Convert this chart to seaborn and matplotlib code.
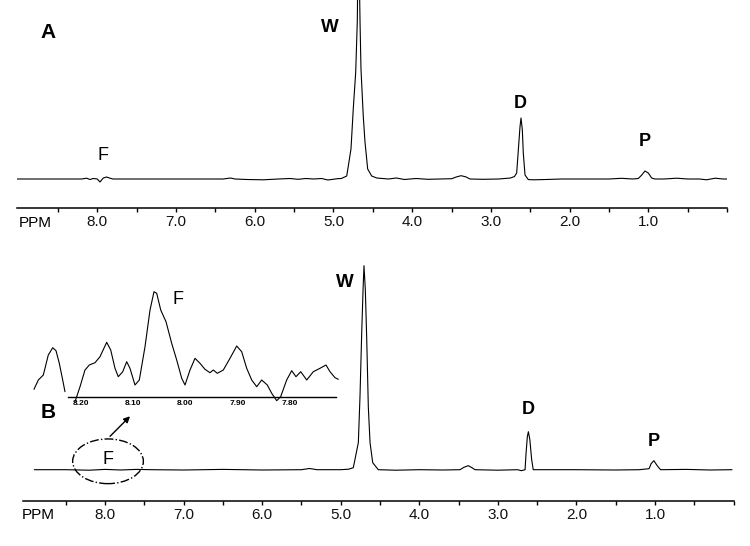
import matplotlib
matplotlib.use("Agg")
import matplotlib.pyplot as plt
import seaborn as sns
from matplotlib.patches import Ellipse

# ---------------- data (ppm, intensity in arbitrary units above baseline) ----------------
a_ppm = [9.02, 8.60, 8.20, 8.135, 8.093, 8.051, 8.00, 7.966, 7.924, 7.881, 7.839, 7.80,
         7.00, 6.40, 6.31, 6.25, 6.10, 5.89, 5.70, 5.55, 5.45, 5.35, 5.25, 5.15, 5.07, 4.95,
         4.90, 4.831, 4.777, 4.748, 4.717, 4.697, 4.682, 4.662, 4.650, 4.621, 4.599, 4.565,
         4.514, 4.45, 4.30, 4.20, 4.10, 3.95, 3.80, 3.65, 3.497, 3.44, 3.379, 3.32, 3.265,
         3.10, 2.90, 2.75, 2.700, 2.672, 2.651, 2.630, 2.617, 2.600, 2.588, 2.566, 2.524,
         2.45, 2.30, 2.10, 1.80, 1.50, 1.34, 1.20, 1.127, 1.083, 1.042, 1.000, 0.957, 0.915,
         0.80, 0.64, 0.50, 0.35, 0.26, 0.15, 0.05, 0.00]
a_int = [0, 0, 0, 0.8, -0.5, 0.5, 0, -3.0, 1.0, 2.0, 0.8, 0,
         0, 0, 1.0, 0, -0.5, -0.8, 0, 0.5, -0.3, 0.5, 0, 0.5, -1.0, 0.3,
         0.5, 3, 30, 70, 107, 157, 260, 157, 110, 63, 37, 10,
         3, 1, 0, 1.0, -0.5, 0.5, -0.3, 0, 0.3, 2.0, 3.3, 2.2, 0,
         -0.3, 0, 1.0, 2.5, 6, 29, 52, 61, 49, 26, 4, -0.6,
         -0.8, -0.5, 0, 0, 0, 0.7, 0, 0.5, 4, 8, 6, 1, 0,
         0, 0.8, 0, 0, -0.8, 0.8, 0, 0]

b_ppm = [8.90, 8.50, 8.20, 8.00, 7.80, 7.60, 7.40, 7.00, 6.50, 6.00, 5.50, 5.40, 5.30,
         5.00, 4.900, 4.840, 4.776, 4.755, 4.733, 4.716, 4.704, 4.687, 4.669, 4.649, 4.627,
         4.593, 4.522, 4.30, 4.00, 3.70, 3.482, 3.43, 3.376, 3.33, 3.291, 3.00, 2.75, 2.70,
         2.654, 2.641, 2.625, 2.612, 2.593, 2.570, 2.550, 2.40, 2.00, 1.50, 1.20, 1.076,
         1.050, 1.015, 0.972, 0.930, 0.60, 0.30, 0.02]
b_int = [0, 0, -0.5, 0.3, -0.3, 0.3, 0, -0.3, 0.3, -0.3, 0, 1.2, 0,
         0, 0.5, 2, 27, 73, 137, 180, 204, 180, 130, 63, 27,
         7, 0, -0.5, 0, -0.3, 0, 2.5, 4.0, 2, 0, -0.5, 0, -1,
         0, 17, 33, 38, 30, 10, 0, 0, 0, -0.3, 0, 1,
         6, 9, 4, 0, 0.3, -0.3, 0]

# inset (zoom of the F region of spectrum B)
inset_left_ppm = [8.2895, 8.2812, 8.2716, 8.2621, 8.2536, 8.2473, 8.2410, 8.2345, 8.2301]
inset_left_int = [8, 17.3, 22.3, 42.3, 49.6, 46.6, 34, 17.3, 5.6]
inset_main_ppm = [8.2109, 8.2013, 8.1918, 8.1835, 8.1726, 8.1630, 8.1502, 8.1425, 8.1343,
                  8.1280, 8.1195, 8.1119, 8.1056, 8.0960, 8.0877, 8.0768, 8.0672, 8.0596,
                  8.0544, 8.0467, 8.0366, 8.0257, 8.0161, 8.0065, 8.0002, 7.9906, 7.9810,
                  7.9715, 7.9619, 7.9523, 7.9460, 7.9383, 7.9268, 7.9140, 7.9011, 7.8916,
                  7.8820, 7.8724, 7.8628, 7.8533, 7.8425, 7.8341, 7.8245, 7.8169, 7.8054,
                  7.7958, 7.7876, 7.7785, 7.7670, 7.7544, 7.7416, 7.7301, 7.7224, 7.7128,
                  7.7065]
inset_main_int = [-4.4, 10.6, 27.3, 32.3, 34.6, 40.6, 55, 47.3, 29,
                  20.6, 25.6, 35.6, 29, 12.3, 17.3, 50.6, 87.3, 105.6,
                  104, 87.3, 75.6, 54, 37.3, 19, 12.3, 27.3, 39,
                  34, 28, 24.6, 27.3, 24, 27.3, 39, 51.3, 45.6,
                  29, 17.3, 10.6, 17.3, 12.3, 4, -3.4, 0.6, 17.3,
                  26.6, 20.6, 25.6, 17.3, 25.6, 29, 32.3, 25.6, 19.6,
                  18]

main_ticks = [8.5, 8.0, 7.5, 7.0, 6.5, 6.0, 5.5, 5.0, 4.5, 4.0, 3.5, 3.0, 2.5, 2.0, 1.5, 1.0, 0.5, 0.0]
main_labels = ["", "8.0", "", "7.0", "", "6.0", "", "5.0", "", "4.0", "", "3.0", "", "2.0", "", "1.0", "", ""]
inset_ticks = [8.20, 8.10, 8.00, 7.90, 7.80]
inset_labels = ["8.20", "8.10", "8.00", "7.90", "7.80"]

# ---------------- figure ----------------
sns.set_theme(style="white")
plt.rcParams["font.family"] = ["Liberation Sans", "DejaVu Sans"]

W, H = 750, 546
fig = plt.figure(figsize=(W / 100, H / 100), dpi=100)
fig.patch.set_facecolor("white")


def box(x0, y0, x1, y1):
    return [x0 / W, 1 - y1 / H, (x1 - x0) / W, (y1 - y0) / H]


def style_main(ax):
    for s in ["top", "left", "right"]:
        ax.spines[s].set_visible(False)
    ax.spines["bottom"].set_color("black")
    ax.spines["bottom"].set_linewidth(1.1)
    ax.set_facecolor("none")
    ax.set_xticks(main_ticks)
    ax.set_xticklabels(main_labels)
    ax.tick_params(axis="x", bottom=True, direction="out", length=3, width=1, color="black",
                   labelsize=11, pad=2, labelcolor="#111111")
    ax.set_yticks([])
    ax.set_xlabel("")
    ax.set_ylabel("")
    ax.grid(False)


# Panel A
axA = fig.add_axes(box(17.0, 0, 727.0, 208.3))
sns.lineplot(x=a_ppm, y=a_int, ax=axA, color="black", linewidth=0.8, sort=False, estimator=None)
axA.set_xlim(9.02, 0.0)
axA.set_ylim(-29.3, 179.0)
style_main(axA)

# Panel B
axB = fig.add_axes(box(23.3, 250, 733.6, 501.3))
sns.lineplot(x=b_ppm, y=b_int, ax=axB, color="black", linewidth=0.8, sort=False, estimator=None)
axB.set_xlim(9.04, 0.0)
axB.set_ylim(-31.6, 219.7)
style_main(axB)

# ellipse + arrow around F in B
axB.add_patch(Ellipse((7.962, 8.4), width=0.90, height=44.7, fill=False, edgecolor="black",
                      linestyle="-.", linewidth=1.0))
axB.annotate("", xy=(7.682, 53.4), xytext=(7.936, 33.4),
             arrowprops=dict(arrowstyle="-|>", color="black", lw=1.0, mutation_scale=9,
                             shrinkA=0, shrinkB=0))

# Inset
axI = fig.add_axes(box(28.5, 282.3, 341.7, 407.3))
sns.lineplot(x=inset_left_ppm, y=inset_left_int, ax=axI, color="black", linewidth=0.8,
             sort=False, estimator=None)
sns.lineplot(x=inset_main_ppm, y=inset_main_int, ax=axI, color="black", linewidth=0.8,
             sort=False, estimator=None)
axI.set_xlim(8.30, 7.70)
axI.set_ylim(-10, 115)
axI.set_facecolor("none")
for s in ["top", "left", "right"]:
    axI.spines[s].set_visible(False)
axI.spines["bottom"].set_position(("data", 0))
axI.spines["bottom"].set_bounds(7.710, 8.224)
axI.spines["bottom"].set_color("black")
axI.spines["bottom"].set_linewidth(1.0)
axI.set_xticks(inset_ticks)
axI.set_xticklabels(inset_labels, fontweight="bold")
axI.tick_params(axis="x", bottom=True, length=0, labelsize=6, pad=2.0, labelcolor="black")
axI.set_yticks([])
axI.set_xlabel("")
axI.set_ylabel("")
axI.grid(False)


def ftext(x, y, s, size=13, weight="bold"):
    fig.text(x / W, 1 - y / H, s, ha="center", va="center", fontsize=size,
             fontweight=weight, color="black")


ftext(48, 32, "A", 15)
ftext(330, 27, "W", 13.5)
ftext(103, 155, "F", weight="normal")
ftext(520, 103, "D")
ftext(645, 142, "P")
ftext(35, 222.7, "PPM", 11, "normal")

ftext(48, 413, "B", 15)
ftext(345, 282, "W", 13.5)
ftext(178, 300, "F", weight="normal")
ftext(108, 460, "F", weight="normal")
ftext(528, 410, "D")
ftext(654, 442, "P")
ftext(38.3, 514.7, "PPM", 11, "normal")

fig.savefig("out.png", dpi=100, facecolor="white")
